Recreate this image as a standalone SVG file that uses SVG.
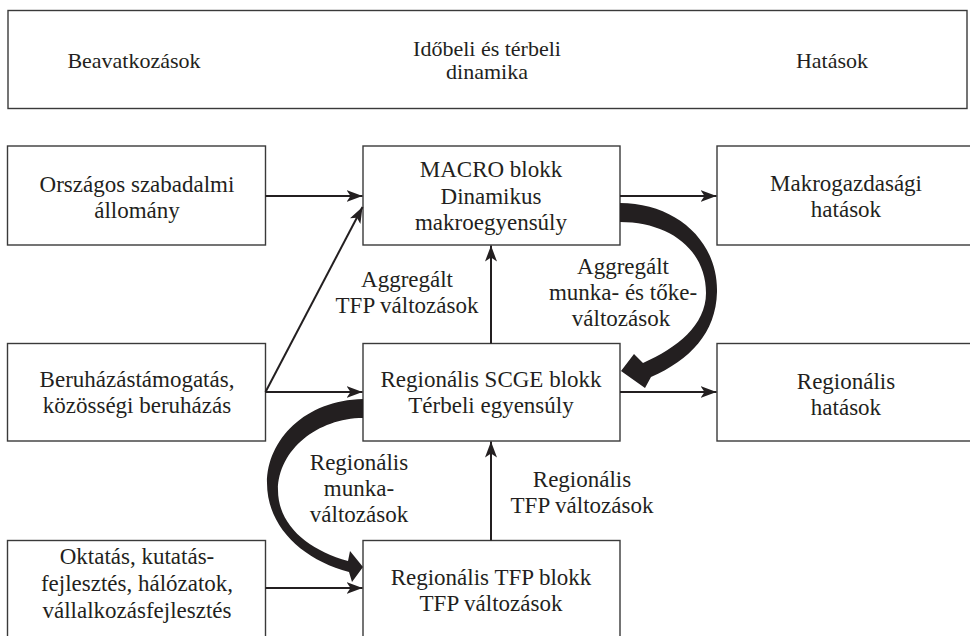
<svg xmlns="http://www.w3.org/2000/svg" width="970" height="636" viewBox="0 0 970 636">
<style>
  .box { fill: #ffffff; stroke: #3a3a3a; stroke-width: 1.4; }
  .t { font-family: 'Liberation Serif', 'Times New Roman', Times, 'DejaVu Serif', serif; font-size: 23px; fill: #231f20; text-anchor: middle; }
  .h { font-size: 22px; }
  .ln { fill: none; stroke: #231f20; stroke-width: 2; marker-end: url(#ah); }
  .fat { fill: #231f20; stroke: none; }
</style>
<defs>
  <marker id="ah" markerUnits="userSpaceOnUse" markerWidth="18" markerHeight="14" refX="16" refY="6" orient="auto">
    <path d="M0,0 L16,6 L0,12 L4,6 Z" fill="#231f20"/>
  </marker>
</defs>
<rect width="970" height="636" fill="#ffffff"/>

<g id="header">
  <rect class="box" x="8" y="10.5" width="959" height="98"/>
  <text class="t h" x="134" y="68">Beavatkozások</text>
  <text class="t h" x="487" y="56">Időbeli és térbeli</text>
  <text class="t h" x="487" y="79">dinamika</text>
  <text class="t h" x="832" y="68">Hatások</text>
</g>

<g id="orszagos">
  <rect class="box" x="7.5" y="146" width="258" height="99"/>
  <text class="t" x="137" y="191.5">Országos szabadalmi</text>
  <text class="t" x="137" y="218">állomány</text>
</g>

<g id="macro">
  <rect class="box" x="363" y="146" width="257" height="99"/>
  <text class="t" x="491" y="177">MACRO blokk</text>
  <text class="t" x="491" y="203.5">Dinamikus</text>
  <text class="t" x="491" y="230">makroegyensúly</text>
</g>

<g id="makrohatasok">
  <rect class="box" x="717" y="146" width="270" height="99"/>
  <text class="t" x="846" y="191">Makrogazdasági</text>
  <text class="t" x="846" y="217">hatások</text>
</g>

<g id="beruhazas">
  <rect class="box" x="7.5" y="343.5" width="258" height="97.5"/>
  <text class="t" x="137" y="387">Beruházástámogatás,</text>
  <text class="t" x="137" y="413">közösségi beruházás</text>
</g>

<g id="scge">
  <rect class="box" x="363" y="343.5" width="257" height="97.5"/>
  <text class="t" x="491" y="387">Regionális SCGE blokk</text>
  <text class="t" x="491" y="413">Térbeli egyensúly</text>
</g>

<g id="reghatasok">
  <rect class="box" x="717" y="343.5" width="270" height="97.5"/>
  <text class="t" x="846" y="389">Regionális</text>
  <text class="t" x="846" y="415">hatások</text>
</g>

<g id="oktatas">
  <rect class="box" x="7.5" y="540.5" width="258" height="110"/>
  <text class="t" x="137" y="564">Oktatás, kutatás-</text>
  <text class="t" x="137" y="591">fejlesztés, hálózatok,</text>
  <text class="t" x="137" y="618">vállalkozásfejlesztés</text>
</g>

<g id="tfp">
  <rect class="box" x="363" y="540.5" width="257" height="110"/>
  <text class="t" x="491" y="585">Regionális TFP blokk</text>
  <text class="t" x="491" y="611">TFP változások</text>
</g>

<g id="labels">
  <text class="t" x="407" y="287">Aggregált</text>
  <text class="t" x="407" y="313">TFP változások</text>
  <text class="t" x="623" y="274">Aggregált</text>
  <text class="t" x="623" y="300">munka- és tőke-</text>
  <text class="t" x="621" y="326">változások</text>
  <text class="t" x="359" y="470">Regionális</text>
  <text class="t" x="359" y="496">munka-</text>
  <text class="t" x="359" y="522">változások</text>
  <text class="t" x="582" y="487">Regionális</text>
  <text class="t" x="582" y="513">TFP változások</text>
</g>

<g id="connectors">
  <line class="ln" x1="265.5" y1="196" x2="362.5" y2="196"/>
  <line class="ln" x1="620" y1="196" x2="716.5" y2="196"/>
  <line class="ln" x1="265.5" y1="392" x2="362.5" y2="392"/>
  <line class="ln" x1="620" y1="392" x2="716.5" y2="392"/>
  <line class="ln" x1="265.5" y1="588" x2="362.5" y2="588"/>
  <line class="ln" x1="265.5" y1="392" x2="362.5" y2="207"/>
  <line class="ln" x1="491" y1="343.5" x2="491" y2="245.5"/>
  <line class="ln" x1="491" y1="540.5" x2="491" y2="441.5"/>
  <path class="fat" d="M620,203 C675,203 718,240 717,292 C716,333 690,360 651,377 L645,388 L621,371 L634,354 L643,363 C677,348 706,325 706,293 C706,250 670,222 620,222 Z"/>
  <path class="fat" d="M363,399 C305,400 267,440 267,483 C267,527 303,560 349,572 L352,582 L363,567 L350,551 L348,561 C308,550 278,525 278,490 C278,450 318,418 363,418 Z"/>
</g>
</svg>
